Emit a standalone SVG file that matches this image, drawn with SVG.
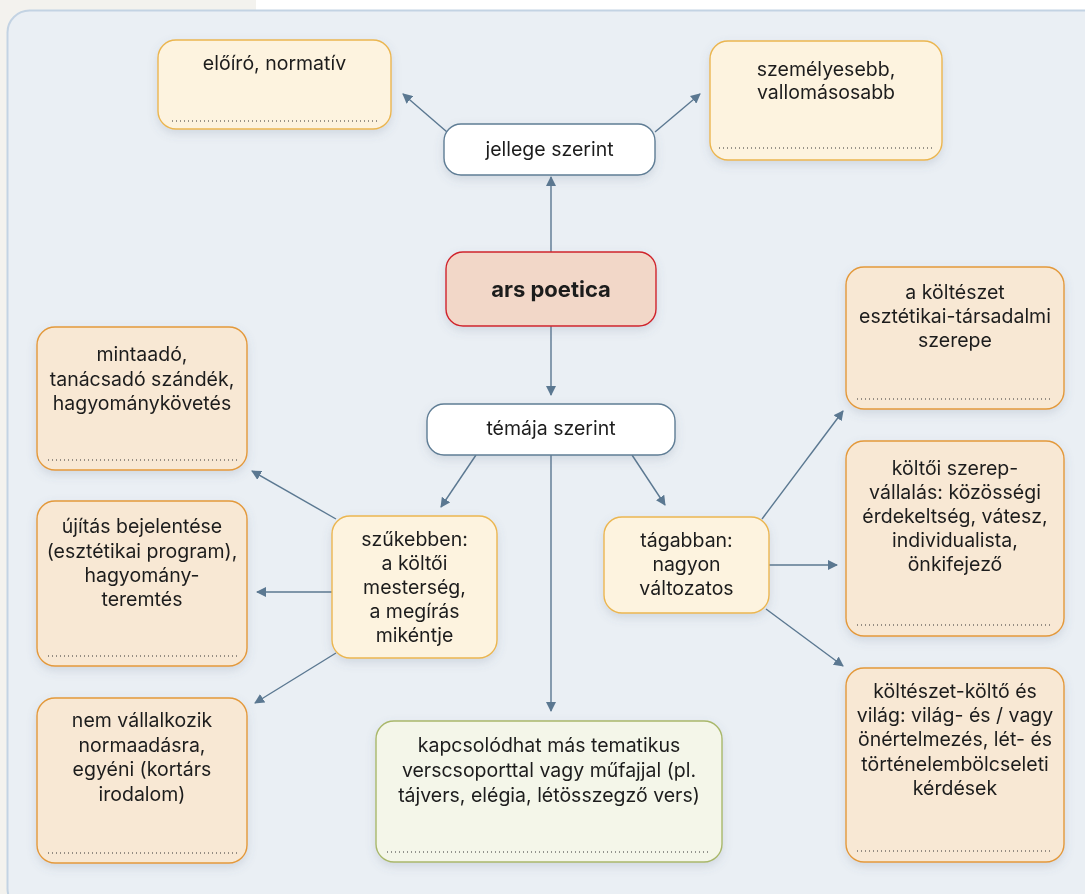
<svg xmlns="http://www.w3.org/2000/svg" width="1085" height="894" viewBox="0 0 1085 894">
<defs>
<style>
.t{font-family:Inter,"Noto Sans","Liberation Sans",sans-serif;font-size:19.5px;fill:#1e1e1e;text-anchor:middle;}
.b{font-weight:bold;font-size:22px;}
.c{fill:none;stroke:#5b7891;stroke-width:1.4;}
.leaf{fill:#f8e8d4;stroke:#e3993a;stroke-width:1.4;}
.mid{fill:#fdf3df;stroke:#ebb650;stroke-width:1.4;}
.wh{fill:#ffffff;stroke:#5f7d95;stroke-width:1.4;}
.dot{stroke:#333;stroke-width:1;stroke-dasharray:1 3;}
</style>
<marker id="ah" viewBox="0 0 10 10" refX="9" refY="5" markerWidth="10" markerHeight="10" markerUnits="userSpaceOnUse" orient="auto">
<path d="M0,0 L10,5 L0,10 z" fill="#5b7891"/>
</marker>
<filter id="sh" x="-20%" y="-20%" width="140%" height="150%">
<feDropShadow dx="0" dy="4" stdDeviation="5" flood-color="#5a6e85" flood-opacity="0.18"/>
</filter>
</defs>
<rect x="0" y="0" width="1085" height="894" fill="#ffffff"/>
<rect x="0" y="0" width="256" height="894" fill="#f3f2ee"/>
<rect x="7.5" y="10.5" width="1100" height="900" rx="22" fill="#eaeff4" stroke="#c3d3e3" stroke-width="2"/>

<g id="connectors">
<line class="c" x1="551" y1="252" x2="551" y2="177" marker-end="url(#ah)"/>
<line class="c" x1="447" y1="132" x2="403" y2="94" marker-end="url(#ah)"/>
<line class="c" x1="655" y1="132" x2="700" y2="94" marker-end="url(#ah)"/>
<line class="c" x1="551" y1="326" x2="551" y2="395" marker-end="url(#ah)"/>
<line class="c" x1="476" y1="455" x2="441" y2="507" marker-end="url(#ah)"/>
<line class="c" x1="632" y1="455" x2="665" y2="505" marker-end="url(#ah)"/>
<line class="c" x1="551" y1="455" x2="551" y2="711" marker-end="url(#ah)"/>
<line class="c" x1="336" y1="519" x2="252" y2="471" marker-end="url(#ah)"/>
<line class="c" x1="332" y1="592" x2="257" y2="592" marker-end="url(#ah)"/>
<line class="c" x1="336" y1="653" x2="255" y2="703" marker-end="url(#ah)"/>
<line class="c" x1="762" y1="519" x2="843" y2="411" marker-end="url(#ah)"/>
<line class="c" x1="769" y1="565" x2="837" y2="565" marker-end="url(#ah)"/>
<line class="c" x1="766" y1="609" x2="843" y2="666" marker-end="url(#ah)"/>
</g>

<g id="n-eloiro" filter="url(#sh)">
<rect class="mid" x="158" y="40" width="233" height="89" rx="18"/>
<text class="t" x="274.5" y="70">előíró, normatív</text>
<line class="dot" x1="172" y1="121" x2="378" y2="121"/>
</g>

<g id="n-szemelyes" filter="url(#sh)">
<rect class="mid" x="710" y="41" width="232" height="119" rx="18"/>
<text class="t" x="826" y="76">személyesebb,</text>
<text class="t" x="826" y="99">vallomásosabb</text>
<line class="dot" x1="719" y1="148" x2="934" y2="148"/>
</g>

<g id="n-jellege" filter="url(#sh)">
<rect class="wh" x="444" y="124" width="211" height="51" rx="17"/>
<text class="t" x="549.5" y="156">jellege szerint</text>
</g>

<g id="n-ars" filter="url(#sh)">
<rect x="446" y="252" width="210" height="74" rx="17" fill="#f2d7c8" stroke="#d0242c" stroke-width="1.4"/>
<text class="t b" x="551" y="297">ars poetica</text>
</g>

<g id="n-temaja" filter="url(#sh)">
<rect class="wh" x="427" y="404" width="248" height="51" rx="17"/>
<text class="t" x="551" y="435">témája szerint</text>
</g>

<g id="n-szukebben" filter="url(#sh)">
<rect class="mid" x="332" y="516" width="165" height="142" rx="18"/>
<text class="t" x="414.5" y="546">szűkebben:</text>
<text class="t" x="414.5" y="570">a költői</text>
<text class="t" x="414.5" y="594">mesterség,</text>
<text class="t" x="414.5" y="618">a megírás</text>
<text class="t" x="414.5" y="642">mikéntje</text>
</g>

<g id="n-tagabban" filter="url(#sh)">
<rect class="mid" x="604" y="517" width="165" height="96" rx="18"/>
<text class="t" x="686.5" y="547">tágabban:</text>
<text class="t" x="686.5" y="571">nagyon</text>
<text class="t" x="686.5" y="595">változatos</text>
</g>

<g id="n-mintaado" filter="url(#sh)">
<rect class="leaf" x="37" y="327" width="210" height="143" rx="18"/>
<text class="t" x="142" y="361">mintaadó,</text>
<text class="t" x="142" y="386">tanácsadó szándék,</text>
<text class="t" x="142" y="410">hagyománykövetés</text>
<line class="dot" x1="48" y1="460" x2="237" y2="460"/>
</g>

<g id="n-ujitas" filter="url(#sh)">
<rect class="leaf" x="37" y="501" width="210" height="165" rx="18"/>
<text class="t" x="142" y="533">újítás bejelentése</text>
<text class="t" x="142" y="558">(esztétikai program),</text>
<text class="t" x="142" y="582">hagyomány-</text>
<text class="t" x="142" y="606">teremtés</text>
<line class="dot" x1="48" y1="656" x2="237" y2="656"/>
</g>

<g id="n-nemvallal" filter="url(#sh)">
<rect class="leaf" x="37" y="698" width="210" height="165" rx="18"/>
<text class="t" x="142" y="727">nem vállalkozik</text>
<text class="t" x="142" y="752">normaadásra,</text>
<text class="t" x="142" y="776">egyéni (kortárs</text>
<text class="t" x="142" y="801">irodalom)</text>
<line class="dot" x1="48" y1="853" x2="237" y2="853"/>
</g>

<g id="n-koltszerep" filter="url(#sh)">
<rect class="leaf" x="846" y="267" width="218" height="142" rx="18"/>
<text class="t" x="955" y="299">a költészet</text>
<text class="t" x="955" y="323">esztétikai-társadalmi</text>
<text class="t" x="955" y="347">szerepe</text>
<line class="dot" x1="857" y1="399" x2="1053" y2="399"/>
</g>

<g id="n-szerepvallalas" filter="url(#sh)">
<rect class="leaf" x="846" y="441" width="218" height="195" rx="18"/>
<text class="t" x="955" y="475">költői szerep-</text>
<text class="t" x="955" y="499">vállalás: közösségi</text>
<text class="t" x="955" y="523">érdekeltség, vátesz,</text>
<text class="t" x="955" y="547">individualista,</text>
<text class="t" x="955" y="571">önkifejező</text>
<line class="dot" x1="857" y1="625" x2="1053" y2="625"/>
</g>

<g id="n-vilag" filter="url(#sh)">
<rect class="leaf" x="846" y="668" width="218" height="194" rx="18"/>
<text class="t" x="955" y="698">költészet-költő és</text>
<text class="t" x="955" y="722">világ: világ- és / vagy</text>
<text class="t" x="955" y="746">önértelmezés, lét- és</text>
<text class="t" x="955" y="771">történelembölcseleti</text>
<text class="t" x="955" y="795">kérdések</text>
<line class="dot" x1="857" y1="851" x2="1053" y2="851"/>
</g>

<g id="n-kapcsolodhat" filter="url(#sh)">
<rect x="376" y="721" width="346" height="141" rx="18" fill="#f4f6e9" stroke="#a9b86b" stroke-width="1.4"/>
<text class="t" x="549" y="752">kapcsolódhat más tematikus</text>
<text class="t" x="549" y="777">verscsoporttal vagy műfajjal (pl.</text>
<text class="t" x="549" y="802">tájvers, elégia, létösszegző vers)</text>
<line class="dot" x1="387" y1="852" x2="711" y2="852"/>
</g>
</svg>
